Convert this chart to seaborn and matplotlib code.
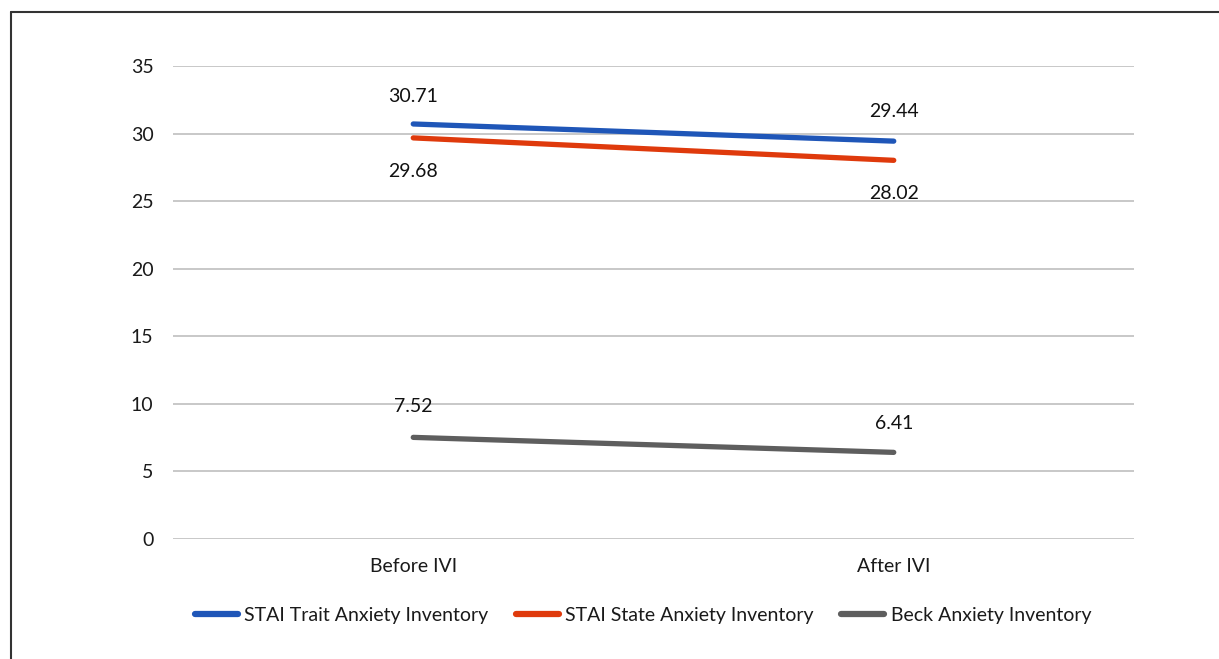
import matplotlib
matplotlib.use("Agg")
import matplotlib.pyplot as plt
import seaborn as sns
import pandas as pd
from matplotlib.lines import Line2D

# Mean anxiety scores before and after IVI
timepoints = ["Before IVI", "After IVI"]
series_names = ["STAI Trait Anxiety Inventory",
                "STAI State Anxiety Inventory",
                "Beck Anxiety Inventory"]
trait_scores = [30.71, 29.44]
state_scores = [29.68, 28.02]
beck_scores = [7.52, 6.41]
y_ticks = [0, 5, 10, 15, 20, 25, 30, 35]

colors = {"STAI Trait Anxiety Inventory": "#1F56B8",
          "STAI State Anxiety Inventory": "#DF3A0C",
          "Beck Anxiety Inventory": "#5E5E5E"}

rows = []
for name, vals in zip(series_names, [trait_scores, state_scores, beck_scores]):
    for i, (t, v) in enumerate(zip(timepoints, vals)):
        rows.append({"Time": t, "pos": i, "Score": v, "Series": name})
df = pd.DataFrame(rows)

sns.set_theme(style="white")
plt.rcParams["font.family"] = ["Lato", "DejaVu Sans"]

fig = plt.figure(figsize=(12.19, 6.59), dpi=100)
ax = fig.add_axes([173 / 1219, 1 - 539 / 659, (1134 - 173) / 1219, (539 - 66) / 659])

sns.lineplot(data=df, x="pos", y="Score", hue="Series", hue_order=series_names,
             palette=colors, linewidth=3.8, ax=ax, legend=False, sort=False,
             solid_capstyle="round")

# value labels: above or below the line
offsets = {"STAI Trait Anxiety Inventory": [20, 21],
           "STAI State Anxiety Inventory": [-24, -24],
           "Beck Anxiety Inventory": [22, 21]}
for name, vals in zip(series_names, [trait_scores, state_scores, beck_scores]):
    for i, v in enumerate(vals):
        dy = offsets[name][i]
        ax.annotate(f"{v:.2f}", (i, v), xytext=(0, dy), textcoords="offset points",
                    ha="center", va="center", fontsize=14, color="#111111")

ax.set_xlim(-0.5, 1.5)
ax.set_ylim(0, 35)
ax.set_yticks(y_ticks)
ax.set_xticks(range(len(timepoints)))
ax.set_xticklabels(timepoints)
ax.set_xlabel("")
ax.set_ylabel("")
ax.grid(axis="y", color="#c4c4c4", linewidth=1.3)
ax.grid(axis="x", visible=False)
ax.set_axisbelow(True)
for s in ax.spines.values():
    s.set_visible(False)
ax.tick_params(axis="y", labelsize=14, pad=14, colors="#1a1a1a", length=0)
ax.tick_params(axis="x", labelsize=14, pad=14, colors="#1a1a1a", length=0)

handles = [Line2D([0], [0], color=colors[n], linewidth=4.5, solid_capstyle="round")
           for n in series_names]
fig.legend(handles, series_names, loc="center", bbox_to_anchor=(643 / 1219, 1 - 615 / 659),
           ncol=3, frameon=False, fontsize=14, handlelength=2.2, handletextpad=0.35,
           columnspacing=1.4, labelcolor="#1a1a1a")

# frame around the chart area
fig.add_artist(Line2D([11 / 1219, 11 / 1219], [0, 1 - 12 / 659], color="#333333", linewidth=1.5))
fig.add_artist(Line2D([11 / 1219, 1], [1 - 12 / 659, 1 - 12 / 659], color="#333333", linewidth=1.5))

fig.savefig("out.png", dpi=100)
